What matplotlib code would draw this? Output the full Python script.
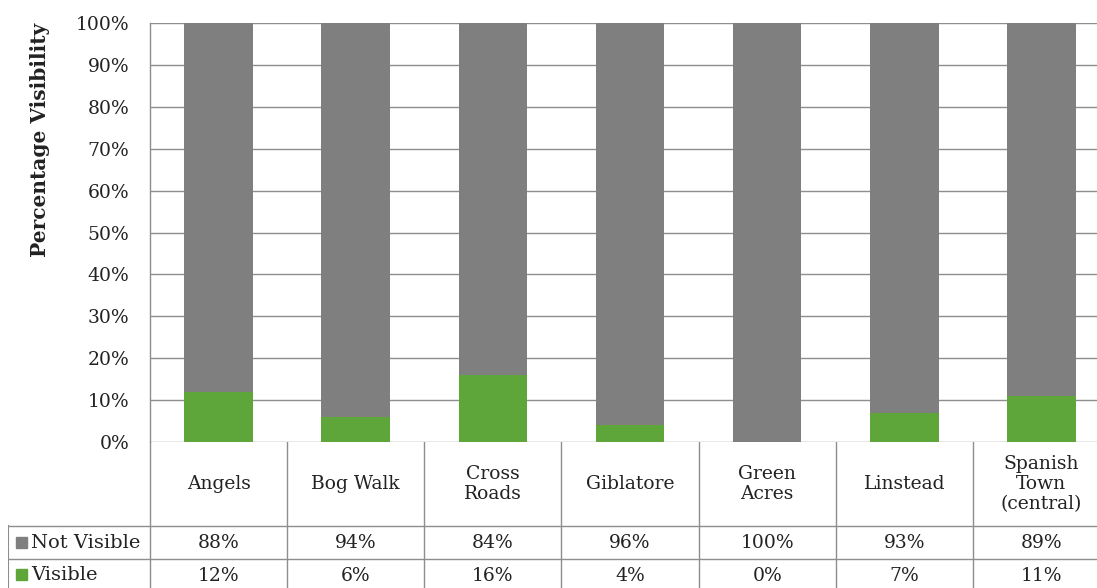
import matplotlib
matplotlib.use("Agg")
import matplotlib.pyplot as plt
from matplotlib.patches import Rectangle
from matplotlib.ticker import FuncFormatter

categories = ["Angels", "Bog Walk", "Cross\nRoads", "Giblatore", "Green\nAcres",
              "Linstead", "Spanish\nTown\n(central)"]
visible = [12, 6, 16, 4, 0, 7, 11]
not_visible = [88, 94, 84, 96, 100, 93, 89]
series_names = ["Not Visible", "Visible"]
y_ticks = list(range(0, 101, 10))

GREY = "#7f7f7f"
GREEN = "#5ea63a"
LINE = "#8e8e8e"
TXT = "#222222"
FONT = "DejaVu Serif"

W, H = 1097, 588
L, R, T, B0 = 150, 1110, 23, 442
fig = plt.figure(figsize=(W / 100, H / 100), dpi=100)
fig.patch.set_facecolor("white")

ax = fig.add_axes([L / W, (H - B0) / H, (R - L) / W, (B0 - T) / H])
x = list(range(len(categories)))
vis_frac = [v / 100 for v in visible]
nv_frac = [v / 100 for v in not_visible]
ax.bar(x, vis_frac, width=0.5, color=GREEN, zorder=3)
ax.bar(x, nv_frac, width=0.5, bottom=vis_frac, color=GREY, zorder=3)
ax.set_xlim(-0.5, len(categories) - 0.5)
ax.set_ylim(0, 1)
ax.set_yticks([t / 100 for t in y_ticks])
ax.yaxis.set_major_formatter(FuncFormatter(lambda v, p: f"{v*100:.0f}%"))
ax.grid(axis="y", color=LINE, linewidth=1, zorder=0)
ax.set_xticks([])
for s in ["top", "right", "bottom"]:
    ax.spines[s].set_visible(False)
ax.spines["left"].set_color(LINE)
ax.spines["left"].set_linewidth(1)
ax.tick_params(axis="y", length=0, pad=15, labelsize=13.5, labelcolor=TXT)
for lab in ax.get_yticklabels():
    lab.set_fontfamily(FONT)

fig.text(40 / W, 1 - 140 / H, "Percentage Visibility", rotation=90, ha="center",
         va="center", fontsize=14.5, fontweight="bold", family=FONT, color=TXT)

# data table
unit = (R - L) / len(categories)
tab = fig.add_axes([8 / W, 0, (R - 8) / W, (H - B0) / H])
x_left = -0.5 - (L - 8) / unit
tab.set_xlim(x_left, len(categories) - 0.5)
tab.set_ylim(H, B0)
tab.axis("off")
r1, r2 = 526, 559
tab.plot([x_left, len(categories) - 0.5], [r1, r1], color=LINE, lw=1)
tab.plot([x_left, len(categories) - 0.5], [r2, r2], color=LINE, lw=1)
tab.plot([x_left, x_left], [r1, H], color=LINE, lw=1.5)
for k in range(len(categories) + 1):
    tab.plot([k - 0.5, k - 0.5], [B0, H], color=LINE, lw=1)
for i, c in enumerate(categories):
    tab.text(i, (B0 + r1) / 2, c, ha="center", va="center", fontsize=13.5,
             family=FONT, color=TXT, linespacing=1.15)
    tab.text(i, (r1 + r2) / 2 + 1, f"{not_visible[i]}%", ha="center", va="center",
             fontsize=13.5, family=FONT, color=TXT)
    tab.text(i, 576, f"{visible[i]}%", ha="center", va="center",
             fontsize=13.5, family=FONT, color=TXT)

# legend keys in the table
for name, col, yc in [(series_names[0], GREY, (r1 + r2) / 2), (series_names[1], GREEN, 575)]:
    fig.patches.append(Rectangle((16 / W, 1 - (yc + 5) / H), 11 / W, 11 / H,
                                 transform=fig.transFigure, color=col))
    fig.text(31 / W, 1 - yc / H, name, ha="left", va="center", fontsize=14,
             family=FONT, color=TXT)

fig.savefig("out.png", dpi=100)
